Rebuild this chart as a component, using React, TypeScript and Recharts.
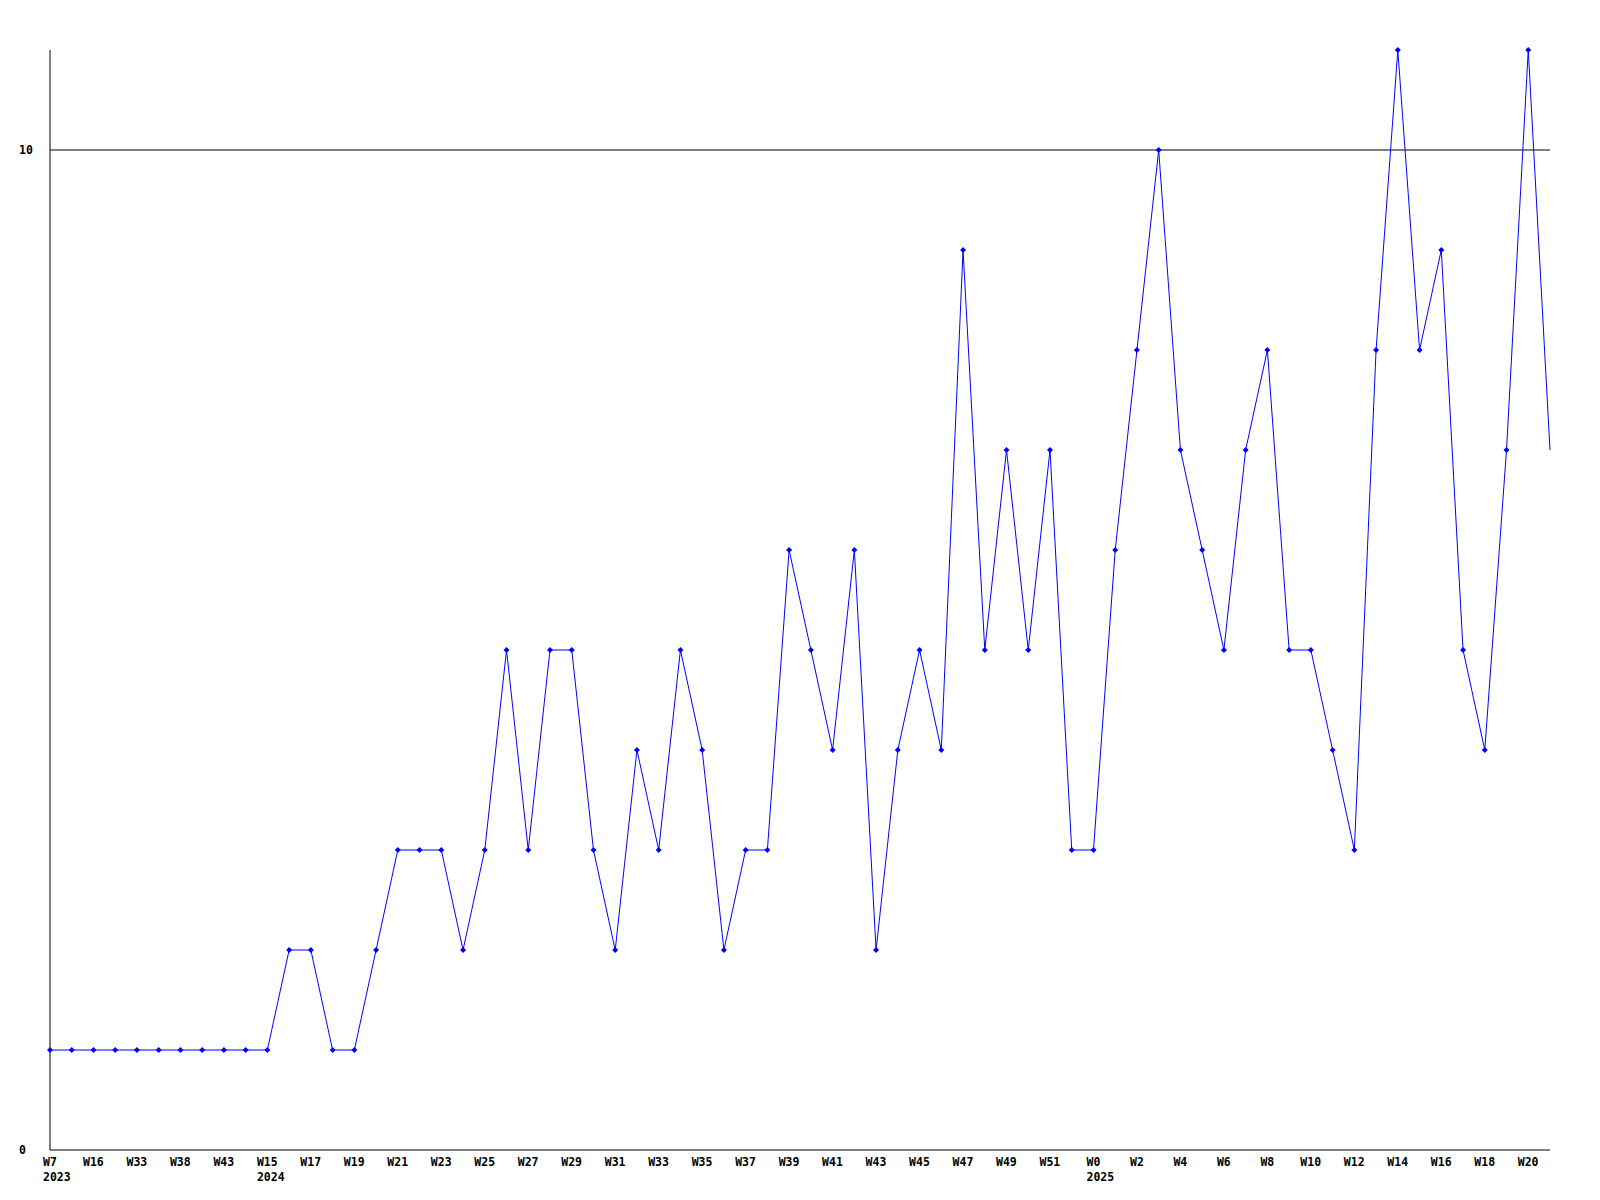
import { CartesianGrid, Line, LineChart, ReferenceLine, XAxis, YAxis } from "recharts";

const weeks = [
  "W7", "W12", "W16", "W25", "W33", "W36", "W38", "W40", "W43", "W48",
  "W15", "W16", "W17", "W18", "W19", "W20", "W21", "W22", "W23", "W24",
  "W25", "W26", "W27", "W28", "W29", "W30", "W31", "W32", "W33", "W34",
  "W35", "W36", "W37", "W38", "W39", "W40", "W41", "W42", "W43", "W44",
  "W45", "W46", "W47", "W48", "W49", "W50", "W51", "W52",
  "W0", "W1", "W2", "W3", "W4", "W5", "W6", "W7", "W8", "W9",
  "W10", "W11", "W12", "W13", "W14", "W15", "W16", "W17", "W18", "W19",
  "W20", "W21",
];

// year shown under the first week of each year
const years: Record<number, string> = { 0: "2023", 10: "2024", 48: "2025" };

const counts = [
  1, 1, 1, 1, 1, 1, 1, 1, 1, 1,
  1, 2, 2, 1, 1, 2, 3, 3, 3, 2,
  3, 5, 3, 5, 5, 3, 2, 4, 3, 5,
  4, 2, 3, 3, 6, 5, 4, 6, 2, 4,
  5, 4, 9, 5, 7, 5, 7, 3,
  3, 6, 8, 10, 7, 6, 5, 7, 8, 5,
  5, 4, 3, 8, 11, 8, 9, 5, 4, 7,
  11, 7,
];

const yTicks = [0, 10];

const data = weeks.map((w, i) => ({ key: i, week: w, year: years[i] ?? "", value: counts[i] }));

const FONT = "'DejaVu Sans Mono', 'Liberation Mono', monospace";

function XTick(props: any) {
  const { x, y, payload } = props;
  const row = data[payload.value];
  const w = row.week.length * 7;
  const left = x - w / 2;
  return (
    <g>
      <text x={left} y={y + 8} fontFamily={FONT} fontSize={11.5} fontWeight="bold" fill="#000">
        {row.week}
      </text>
      {row.year && (
        <text x={left} y={y + 23} fontFamily={FONT} fontSize={11.5} fontWeight="bold" fill="#000">
          {row.year}
        </text>
      )}
    </g>
  );
}

function YTick(props: any) {
  const { y, payload } = props;
  return (
    <text x={19} y={y + 4} fontFamily={FONT} fontSize={11.5} fontWeight="bold" fill="#000">
      {payload.value}
    </text>
  );
}

function Dot(props: any) {
  const { cx, cy, index } = props;
  if (index === data.length - 1) return <g key={index} />;
  return (
    <path
      key={index}
      d={`M${cx - 3},${cy} L${cx},${cy - 3} L${cx + 3},${cy} L${cx},${cy + 3} Z`}
      fill="#0000ff"
    />
  );
}

export default function App() {
  return (
    <div style={{ position: "absolute", left: 0, top: 0, width: 1600, height: 1200, background: "#fff" }}>
      <LineChart width={1600} height={1200} data={data} margin={{ top: 50, right: 50, left: 0, bottom: 0 }}>
        <CartesianGrid horizontal={false} vertical={false} />
        <XAxis
          dataKey="key"
          interval={1}
          height={50}
          tickLine={false}
          axisLine={{ stroke: "#000", strokeWidth: 1 }}
          tick={<XTick />}
        />
        <YAxis
          width={50}
          domain={[0, 11]}
          ticks={yTicks}
          tickLine={false}
          axisLine={{ stroke: "#000", strokeWidth: 1 }}
          tick={<YTick />}
        />
        <ReferenceLine y={10} stroke="#000" strokeWidth={1} />
        <Line
          type="linear"
          dataKey="value"
          stroke="#0000ff"
          strokeWidth={1}
          dot={<Dot />}
          activeDot={false}
          isAnimationActive={false}
        />
      </LineChart>
    </div>
  );
}
